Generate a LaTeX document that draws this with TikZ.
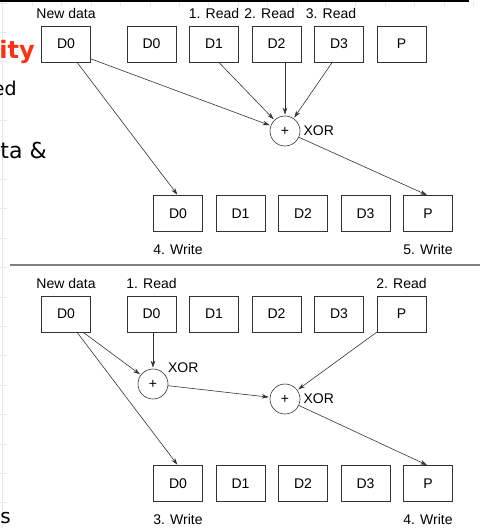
\documentclass[tikz,border=0pt]{standalone}
\usepackage{fontspec}
\setmainfont{Liberation Sans}
\newfontfamily\slidefont{DejaVu Sans}
\usepackage{tikz}
\usetikzlibrary{arrows.meta,positioning}

\definecolor{slidered}{RGB}{250,50,20}
\definecolor{gridblue}{RGB}{226,234,248}

\tikzset{
  blk/.style={draw, rectangle, minimum width=49pt, minimum height=36pt,
    inner sep=0pt, outer sep=0pt},
  xor/.style={draw, circle, minimum size=30pt, inner sep=0pt},
  tag/.style={inner sep=0pt},
  slide/.style={inner sep=0pt, font=\slidefont\fontsize{22}{26}\selectfont},
}

\begin{document}
\begin{tikzpicture}[->,>={Stealth[length=7pt,width=4.5pt]},shorten >=1pt,auto,
			node distance=13.5pt,semithick,draw=black!80,
			x=1pt,y=1pt,font=\fontsize{14}{16}\selectfont]

			\useasboundingbox (0,0) rectangle (481,-530);
			\clip (0,0) rectangle (481,-530);

			% slide background
			\draw[-,gridblue,line width=1pt] (2,0) -- (2,-530);
			\foreach \k in {0,...,17}
				\draw[-,gridblue,line width=1pt] (0,-3-29.4*\k) -- (8,-3-29.4*\k);
			\foreach \k in {1,...,16}
				\draw[-,gridblue,line width=1pt] (3+29.4*\k,-2) -- (3+29.4*\k,-8);
			\draw[-,black,line width=2.5pt] (0,-1) -- (470,-1);
			\draw[-,gray,line width=1.5pt] (10,-265) -- (481,-265);

			\node[slide, anchor=base east, text=slidered,
				font=\slidefont\bfseries\fontsize{24}{28}\selectfont] (s1) at (35,-58) {ity};
			\node[slide, anchor=base east, font=\slidefont\fontsize{19}{23}\selectfont]
				(s2) at (17,-95) {ed};
			\node[slide, anchor=base east] (s3) at (47,-158) {ta \&};
			\node[slide, anchor=base west, font=\slidefont\fontsize{20}{24}\selectfont]
				(s4) at (0,-523) {s};

			% first update
			\node[blk] (nd) at (66,-44) {D0};
			\node[blk] (d0) at (151.5,-44) {D0};
			\node[blk] (d1) [right=of d0] {D1};
			\node[blk] (d2) [right=of d1] {D2};
			\node[blk] (d3) [right=of d2] {D3};
			\node[blk] (p)  [right=of d3] {P};
			\node[xor] (x1) at (285,-131) {+};

			\node[blk] (w0) at (178,-213.5) {D0};
			\node[blk] (w1) [right=of w0] {D1};
			\node[blk] (w2) [right=of w1] {D2};
			\node[blk] (w3) [right=of w2] {D3};
			\node[blk] (wp) [right=of w3] {P};

			\node[tag] (lnd) [above=7pt of nd] {New data};
			\node[tag] (lr1) [above=7pt of d1] {1. Read};
			\node[tag] (lr2) [above=7pt of d2, xshift=-7pt] {2. Read};
			\node[tag] (lr3) [above=7pt of d3, xshift=-8pt] {3. Read};
			\node[tag] (lx1) [right=3pt of x1] {XOR};
			\node[tag] (lw4) [below=13pt of w0] {4. Write};
			\node[tag] (lw5) [below=13pt of wp] {5. Write};

			\path (nd.-31) edge (x1)
			(nd.-59) edge (w0.north)
			(d1.-76) edge (x1)
			(d2.south -| x1) edge (x1)
			(d3.-110) edge (x1)
			(x1) edge (wp.north);

			% second update
			\node[blk] (bnd) at (66,-314) {D0};
			\node[blk] (bd0) at (151.5,-314) {D0};
			\node[blk] (bd1) [right=of bd0] {D1};
			\node[blk] (bd2) [right=of bd1] {D2};
			\node[blk] (bd3) [right=of bd2] {D3};
			\node[blk] (bp)  [right=of bd3] {P};
			\node[xor] (y1) at (153,-384) {+};
			\node[xor] (y2) at (285,-399) {+};

			\node[blk] (v0) at (178,-483.5) {D0};
			\node[blk] (v1) [right=of v0] {D1};
			\node[blk] (v2) [right=of v1] {D2};
			\node[blk] (v3) [right=of v2] {D3};
			\node[blk] (vp) [right=of v3] {P};

			\node[tag] (bnl) [above=7pt of bnd] {New data};
			\node[tag] (br1) [above=7pt of bd0] {1. Read};
			\node[tag] (br2) [above=7pt of bp] {2. Read};
			\node[tag, anchor=south west] (ly1) at ([xshift=4pt]y1.north east) {XOR};
			\node[tag] (ly2) [right=3pt of y2] {XOR};
			\node[tag] (bw3) [below=13pt of v0] {3. Write};
			\node[tag] (bw4) [below=13pt of vp] {4. Write};

			\path (bnd.-47) edge (y1)
			(bnd.-59) edge (v0.north)
			(bd0.south -| y1) edge (y1)
			(y1) edge (y2)
			(bp.south west) edge (y2)
			(y2) edge (vp.north);
\end{tikzpicture}
\end{document}
